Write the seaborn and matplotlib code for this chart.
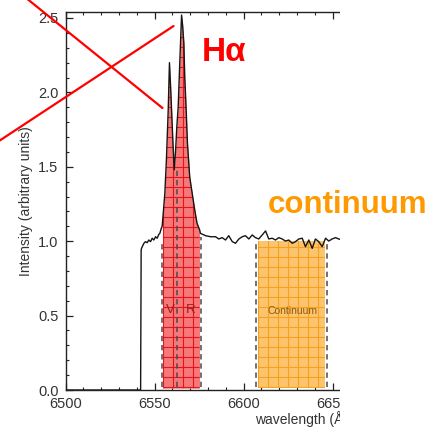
import numpy as np
import pandas as pd
import matplotlib
matplotlib.use("Agg")
import matplotlib.pyplot as plt
import seaborn as sns
from matplotlib.patches import Rectangle
from matplotlib.collections import LineCollection
from matplotlib.ticker import MultipleLocator, FormatStrFormatter

# H-alpha spectrum: wavelength (Angstrom) and intensity (arbitrary units)
wavelength = [
    6500.0, 6542.2, 6542.5, 6542.7, 6544.0, 6544.9, 6545.9, 6546.8, 6547.8,
    6548.7, 6549.6, 6550.6, 6551.5, 6552.4, 6553.0, 6553.8, 6554.3, 6555.0,
    6555.8, 6556.7, 6557.7, 6558.4, 6559.0, 6559.6, 6560.4, 6561.1, 6561.8,
    6562.6, 6563.3, 6564.2, 6565.2, 6565.8, 6566.5, 6567.0, 6567.8, 6568.5,
    6569.8, 6571.2, 6572.6, 6573.9, 6575.4, 6575.8, 6578.7, 6581.5, 6584.3,
    6586.1, 6588.0, 6589.9, 6591.7, 6593.7, 6595.5, 6597.4, 6599.3, 6601.1,
    6603.0, 6604.9, 6606.7, 6608.6, 6610.5, 6612.4, 6614.2, 6616.1, 6618.0,
    6619.8, 6621.7, 6623.6, 6625.4, 6627.4, 6629.2, 6631.1, 6633.0, 6634.8,
    6636.7, 6638.6, 6640.4, 6642.3, 6644.2, 6646.1, 6647.9, 6649.8, 6651.7,
    6653.5, 6656.0, 6660.0,
]
intensity = [
    0.0, 0.0, 0.94, 0.952, 0.985, 0.997, 0.990, 1.008, 0.997,
    1.020, 1.008, 1.030, 1.020, 1.045, 1.053, 1.086, 1.10, 1.20,
    1.32, 1.55, 1.88, 2.20, 2.05, 1.88, 1.65, 1.48, 1.60,
    1.78, 1.90, 2.20, 2.52, 2.45, 2.33, 2.10, 1.88, 1.66,
    1.43, 1.32, 1.21, 1.12, 1.075, 1.053, 1.037, 1.030, 1.030,
    1.015, 1.024, 1.008, 1.037, 0.997, 0.986, 1.015, 1.030, 1.037,
    1.015, 1.042, 1.024, 1.015, 1.042, 1.069, 1.015, 1.020, 1.008,
    1.024, 1.015, 1.001, 1.008, 0.986, 0.997, 1.015, 1.020, 0.963,
    1.008, 0.952, 1.015, 0.997, 0.963, 1.020, 1.001, 1.015, 1.024,
    1.015, 1.005, 1.010,
]

# Integration windows
line_band = (6554.5, 6575.3)
line_dashes = [6554.0, 6562.7, 6576.0]
line_dash_tops = [1.0, 1.5, 1.03]
cont_band = (6608.0, 6646.0)
cont_level = 1.0
cont_dashes = [6607.0, 6647.0]
cont_dash_tops = [1.0, 1.0]

x_ticks = [6500, 6550, 6600, 6650]
y_ticks = [0.0, 0.5, 1.0, 1.5, 2.0, 2.5]

# Red cross drawn over the upper-left corner
cross_a = ([6471.9, 6554.5], [2.692, 1.895])
cross_b = ([6457.9, 6560.7], [1.636, 2.446])

df = pd.DataFrame({"wavelength": wavelength, "intensity": intensity})

sns.set_theme(style="ticks")
plt.rcParams["font.family"] = ["Liberation Sans", "DejaVu Sans"]

W, H = 442, 433
fig = plt.figure(figsize=(W / 100, H / 100), dpi=100)
fig.patch.set_facecolor("white")

xlim = (6500, 6660)
ylim = (0.0, 2.54)
px_per_a, px_per_i = 1.78, 148.8
left_px, bottom_px = 65.5, 390.0
ax = fig.add_axes([left_px / W, (H - bottom_px) / H,
                   (xlim[1] - xlim[0]) * px_per_a / W,
                   (ylim[1] - ylim[0]) * px_per_i / H])
ax.set_xlim(*xlim)
ax.set_ylim(*ylim)
ax.set_facecolor("white")

wl = np.asarray(wavelength)
fl = np.asarray(intensity)

# Shaded line window under the profile
xs = np.linspace(line_band[0], line_band[1], 300)
red_poly = ax.fill_between(xs, 0.012, np.interp(xs, wl, fl),
                           color="#f67878", lw=0, zorder=2)
# Shaded continuum window
cx = np.array(cont_band)
org_poly = ax.fill_between(cx, 0.012, [cont_level, cont_level],
                           color="#fdc46e", lw=0, zorder=2)


def grid_overlay(poly, x_lo, x_hi, y_lo, y_hi, color, step_px=10.0):
    T = ax.transData
    inv = T.inverted()
    (p0x, p0y), (p1x, p1y) = T.transform([(x_lo, y_lo), (x_hi, y_hi)])
    segs = []
    for px in np.arange(p0x + 0.5, p1x, step_px):
        xd = inv.transform((px, p0y))[0]
        segs.append([(xd, y_lo), (xd, y_hi)])
    for py in np.arange(p0y + 3.0, p1y, step_px):
        yd = inv.transform((p0x, py))[1]
        segs.append([(x_lo, yd), (x_hi, yd)])
    lc = LineCollection(segs, colors=color, linewidths=0.8, zorder=3)
    ax.add_collection(lc)
    lc.set_clip_path(poly.get_paths()[0], ax.transData)


grid_overlay(red_poly, line_band[0], line_band[1], 0.0, 2.6, "#e5141c")
grid_overlay(org_poly, cont_band[0], cont_band[1], 0.0, 1.1, "#f9a01e")

# Window boundaries
ax.vlines(line_dashes, 0.02, line_dash_tops, colors="#4a4a4a",
          linestyles=(0, (3.5, 2.5)), lw=1.1, zorder=5)
ax.vlines(cont_dashes, 0.02, cont_dash_tops, colors="#4a4a4a",
          linestyles=(0, (3.5, 2.5)), lw=1.1, zorder=5)

# Spectrum
sns.lineplot(data=df, x="wavelength", y="intensity", color="#151515",
             lw=1.0, sort=False, estimator=None, ax=ax, zorder=4)

ax.text(6559.0, 0.54, "V", color="#9a1f1f", fontsize=9.5,
        ha="center", va="center", zorder=6)
ax.text(6570.2, 0.54, "R", color="#9a1f1f", fontsize=9.5,
        ha="center", va="center", zorder=6)
ax.text(6627.5, 0.53, "Continuum", color="#8a5a10", fontsize=7.5,
        ha="center", va="center", zorder=6)

# Axes styling
ax.set_xticks(x_ticks)
ax.set_yticks(y_ticks)
ax.xaxis.set_minor_locator(MultipleLocator(10))
ax.yaxis.set_minor_locator(MultipleLocator(0.1))
ax.yaxis.set_major_formatter(FormatStrFormatter("%.1f"))
ax.tick_params(which="both", direction="in", top=True, right=False,
               bottom=True, left=True, colors="#222222",
               labelcolor="#333333", labelsize=10.5)
ax.tick_params(which="major", length=5, width=0.9, pad=5)
ax.tick_params(which="minor", length=2.5, width=0.8)
ax.spines["right"].set_visible(False)
for s in ("left", "top", "bottom"):
    ax.spines[s].set_linewidth(1.0)
    ax.spines[s].set_color("#222222")

ax.set_ylabel("Intensity (arbitrary units)", fontsize=10, color="#333333",
              va="center")
ax.yaxis.set_label_coords(-0.137, 0.5)
ax.set_xlabel("wavelength (Å)", fontsize=10, color="#333333",
              ha="left", va="center")
ax.xaxis.set_label_coords((255 - left_px) / (xlim[1] - xlim[0]) / px_per_a,
                          (bottom_px - 419) / ((ylim[1] - ylim[0]) * px_per_i))

# Red cross
for xs_, ys_ in (cross_a, cross_b):
    ax.plot(xs_, ys_, color="#ff0000", lw=1.6, clip_on=False, zorder=7)

# Figure trimmed on the right
fig.add_artist(Rectangle((340 / W, 0), 1 - 340 / W, 1, transform=fig.transFigure,
                         facecolor="white", edgecolor="none", zorder=5))

fig.text(224 / W, 1 - 61 / H, "Hα", color="#ff0000", fontsize=24,
         fontweight="bold", ha="center", va="baseline", zorder=8)
fig.text(348 / W, 1 - 213 / H, "continuum", color="#ff9900", fontsize=22.5,
         fontweight="bold", ha="center", va="baseline", zorder=8)

fig.savefig("out.png", dpi=100, facecolor="white")
